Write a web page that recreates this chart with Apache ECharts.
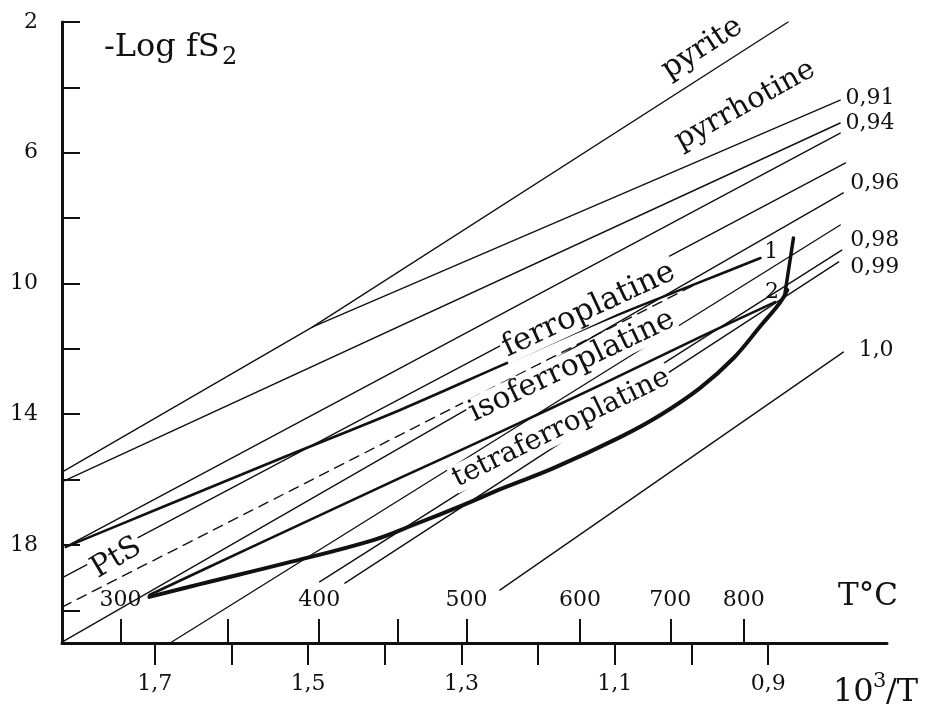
<!DOCTYPE html>
<html><head><meta charset="utf-8">
<script src="https://cdn.jsdelivr.net/npm/echarts@6/dist/echarts.min.js"></script>
<style>html,body{margin:0;padding:0;background:#fff}#c{width:934px;height:710px}</style>
</head><body><div id="c"></div>
<script>
const FONT = 'DejaVu Serif';
const INK = '#111111';

// ---- axis ticks / labels ----
const yTicks = [2,4,6,8,10,12,14,16,18,20];
const yLabels = [2,6,10,14,18];
const xTicks = [1.7,1.6,1.5,1.4,1.3,1.2,1.1,1.0,0.9];
const xLabels = [1.7,1.5,1.3,1.1,0.9];
const tempTicks = [300,350,400,450,500,600,700,800];
const tempLabels = [300,400,500,600,700,800];

// ---- thin lines (x = 10^3/T, y = -log fS2) ----
const pyrite   = [[1.821,15.77],[1.494,11.33],[0.874,2.0]];
const iso091   = [[1.494,11.33],[0.806,4.39]];
const iso094   = [[1.821,16.07],[0.806,5.09]];
const lineA    = [[1.814,18.03],[0.806,5.40]];
const ptsLine  = [[1.821,19.01],[0.799,6.31]];
const lineB    = [[1.821,20.97],[0.802,7.23]];
const lineC    = [[1.680,21.0],[0.806,8.21]];
const lineD    = [[1.485,19.13],[0.804,8.98]];
const lineE    = [[1.452,19.17],[0.808,9.34]];
const iso100   = [[1.250,19.38],[0.802,12.10]];
const dashed   = [[1.821,19.90],[0.989,9.96]];

// ---- thick boundaries ----
const bound1 = [[1.816,18.06],[1.693,16.87],[1.528,15.28],[1.380,13.87],[1.250,12.53],[1.119,11.18],[0.989,9.96],[0.910,9.22]];
const bound2 = [[1.707,19.53],[1.576,18.09],[1.380,15.95],[1.250,14.55],[1.119,13.11],[0.989,11.64],[0.891,10.57]];
const bound3 = [[1.707,19.59],[1.641,19.20],[1.528,18.55],[1.415,17.85],[1.363,17.39],[1.298,16.78],[1.246,16.26],[1.180,15.65],[1.093,14.70],[1.041,14.03],[0.989,13.20],[0.945,12.28],[0.910,11.30],[0.884,10.57],[0.875,10.20]];
const arrow12 = [[0.867,8.61],[0.878,10.29]];

// ---- annotations ----
const rotNames = ['pyrite','pyrrhotine','ferroplatine','isoferroplatine','tetraferroplatine','PtS'];
const rotX     = [0.986, 0.930, 1.134, 1.156, 1.170, 1.750];
const rotY     = [2.80, 4.55, 10.81, 12.53, 14.42, 18.40];
const rotDeg   = [33, 29, 25, 25.5, 26, 31];
const rotSize  = [30, 29, 31, 30, 28, 30];
const sideNames = ['0,91','0,94','0,96','0,98','0,99','1,0','1','2'];
const sideX     = [0.799,0.799,0.793,0.793,0.793,0.782,0.905,0.904];
const sideY     = [4.33,5.09,6.93,8.67,9.50,12.04,9.04,10.26];

const toInv = T => 1000/(T+273.15);
const fmtDec = v => (Math.round(v*10)/10).toFixed(1).replace('.', ',');

function ln(data, width, type, smooth){
  return {type:'line', data, symbol:'none', silent:true, animation:false, z:2, smooth: smooth||false,
    lineStyle:{color:INK, width, type: type||'solid', cap:'round', join:'round'}};
}

const series = [
  ln(pyrite,1.4), ln(iso091,1.4), ln(iso094,1.4), ln(lineA,1.4), ln(ptsLine,1.4),
  ln(lineB,1.4), ln(lineC,1.4), ln(lineD,1.4), ln(lineE,1.4), ln(iso100,1.4),
  ln(dashed,1.4,[10,7]),
  ln(bound1,2.6,null,0.3), ln(bound2,2.6,null,0.3), ln(bound3,4,null,0.4), ln(arrow12,3.5)
];
const lblBase = {show:true, position:'inside', fontFamily:FONT, color:INK, opacity:1, textBorderWidth:0, textBorderColor:'transparent'};
series.push({type:'scatter', symbolSize:1, silent:true, animation:false, z:5,
  itemStyle:{color:'#fff', opacity:1},
  data: rotNames.map((t,i)=>({value:[rotX[i],rotY[i]], label:Object.assign({}, lblBase, {formatter:t,
    rotate:rotDeg[i], fontSize: rotSize[i], backgroundColor:'#fff', padding:[0,2]})}))
});
series.push({type:'scatter', symbolSize:1, silent:true, animation:false, z:5,
  itemStyle:{color:'#fff', opacity:1},
  data: sideNames.map((t,i)=>({value:[sideX[i],sideY[i]], label:Object.assign({}, lblBase, {align:'left', formatter:t, fontSize:22})}))
});

const chart = echarts.init(document.getElementById('c'), null, {renderer:'canvas'});
chart.setOption({
  backgroundColor:'#fff',
  animation:false,
  grid:{left:62, right:47, top:22, bottom:67},
  xAxis:[{
    type:'value', min:0.745, max:1.821, inverse:true, position:'bottom',
    axisLine:{onZero:false, lineStyle:{color:INK, width:3}},
    axisTick:{customValues:xTicks, length:22, lineStyle:{color:INK, width:2}},
    axisLabel:{customValues:xLabels, margin:30, fontFamily:FONT, fontSize:22, color:INK, formatter:fmtDec},
    splitLine:{show:false}
  },{
    type:'value', min:0.745, max:1.821, inverse:true, position:'bottom', offset:0,
    axisLine:{show:false, onZero:false},
    axisTick:{inside:true, customValues:tempTicks.map(toInv), length:24, lineStyle:{color:INK, width:2}},
    axisLabel:{inside:true, customValues:tempLabels.map(toInv), margin:32, fontFamily:FONT, fontSize:22, color:INK,
      formatter: v => String(Math.round(1000/v - 273.15))},
    splitLine:{show:false}
  }],
  yAxis:{
    type:'value', min:2, max:21, inverse:true,
    axisLine:{onZero:false, lineStyle:{color:INK, width:3}},
    axisTick:{inside:true, customValues:yTicks, length:18, lineStyle:{color:INK, width:2}},
    axisLabel:{customValues:yLabels, margin:24, fontFamily:FONT, fontSize:22, color:INK},
    splitLine:{show:false}
  },
  graphic:[
    {type:'text', x:104, y:48, style:{text:'-Log fS', font:'32px "DejaVu Serif"', fill:INK, verticalAlign:'middle'}},
    {type:'text', x:222, y:58, style:{text:'2', font:'24px "DejaVu Serif"', fill:INK, verticalAlign:'middle'}},
    {type:'text', x:838, y:597, style:{text:'T°C', font:'31px "DejaVu Serif"', fill:INK, verticalAlign:'middle'}},
    {type:'text', x:833, y:693, style:{text:'10', font:'32px "DejaVu Serif"', fill:INK, verticalAlign:'middle'}},
    {type:'text', x:873, y:682, style:{text:'3', font:'21px "DejaVu Serif"', fill:INK, verticalAlign:'middle'}},
    {type:'text', x:886, y:693, style:{text:'/T', font:'32px "DejaVu Serif"', fill:INK, verticalAlign:'middle'}}
  ],
  series
});
</script></body></html>
